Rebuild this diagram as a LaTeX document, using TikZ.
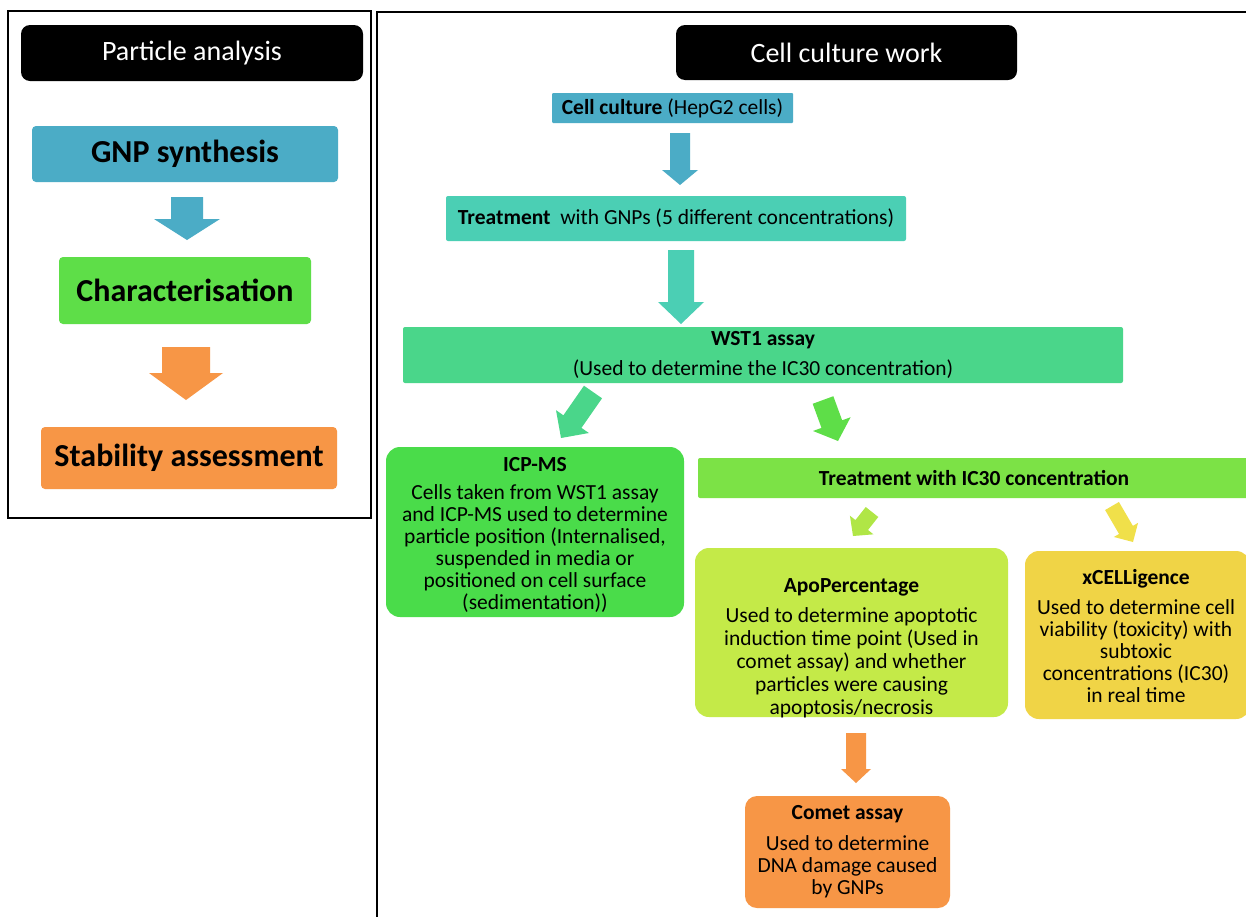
\documentclass[tikz,border=0pt]{standalone}
\usepackage{fontspec}
\setmainfont{Carlito}
\usetikzlibrary{calc}
\definecolor{cblue}{HTML}{4BACC6}
\definecolor{cgreen}{HTML}{5EDE48}
\definecolor{corange}{HTML}{F79646}
\definecolor{cteal}{HTML}{4BCFB4}
\definecolor{cwst}{HTML}{4AD68A}
\definecolor{cicp}{HTML}{4ADC4A}
\definecolor{clime}{HTML}{7CE246}
\definecolor{capo}{HTML}{C4EA48}
\definecolor{capoarr}{HTML}{B0E646}
\definecolor{cyel}{HTML}{F0D446}
\definecolor{cyarr}{HTML}{F0E04A}
\newcommand\fatarrow[6]{%
  \coordinate (fah) at ($(#2)!#5!(#1)$);
  \fill[#6] ($(#1)!#3!90:(#2)$) -- ($(fah)!#3!90:(#2)$) -- ($(fah)!#4!90:(#2)$) -- (#2)
    -- ($(fah)!#4!-90:(#2)$) -- ($(fah)!#3!-90:(#2)$) -- ($(#1)!#3!-90:(#2)$) -- cycle;}
\tikzset{
  box/.style={rectangle, rounded corners=4pt, inner sep=0pt, align=center, text=black},
  rbox/.style={rectangle, rounded corners=14pt, inner sep=0pt},
  hdr/.style={rectangle, fill=black, rounded corners=9pt, text=white, inner sep=0pt,
    font=\fontsize{28}{32}\selectfont},
  big/.style={font=\fontsize{32}{36}\selectfont\bfseries},
  sm/.style={font=\fontsize{21.5}{22}\selectfont},
  txt/.style={inner sep=0pt, align=center, text=black},
  frame/.style={draw=black, line width=2pt}
}
\begin{document}
\begin{tikzpicture}[x=1pt,y=-1pt]
\useasboundingbox (0,0) rectangle (1246,916);
\clip (0,0) rectangle (1246,916);
\fill[white] (0,0) rectangle (1246,916);
% frames
\draw[frame] (8,11) rectangle (371,518);
\draw[frame] (377,12) rectangle (1262,932);
% left column
\node[hdr, minimum width=342pt, minimum height=56pt] (hdrL) at (192,53) {Particle analysis};
\node[box, big, fill=cblue, minimum width=306pt, minimum height=56pt] (gnp) at (185,154) {GNP synthesis};
\node[box, big, fill=cgreen, minimum width=252pt, minimum height=67pt] (char) at (185,290.5) {Characterisation};
\node[box, big, fill=corange, minimum width=296pt, minimum height=62pt] (stab) at (189,458) {Stability assessment};
\coordinate (a1s) at (187,197); \coordinate (a1e) at (187,240);
\fatarrow{a1s}{a1e}{16pt}{33pt}{21pt}{cblue}
\coordinate (a2s) at (186,347); \coordinate (a2e) at (186,400);
\fatarrow{a2s}{a2e}{24pt}{37pt}{27pt}{corange}
% right column
\node[hdr, minimum width=341pt, minimum height=55pt] (hdrR) at (846.5,52.5) {Cell culture work};
\node[box, sm, rounded corners=1pt, fill=cblue, minimum width=241pt, minimum height=30pt] (cc) at (672.5,108) {\textbf{Cell culture} (HepG2 cells)};
\node[box, sm, rounded corners=2pt, fill=cteal, minimum width=460pt, minimum height=45pt] (treat) at (676,218.5) {\textbf{Treatment}\ \ with GNPs (5 different concentrations)};
\node[box, sm, rounded corners=2pt, fill=cwst, minimum width=720pt, minimum height=56pt] (wst) at (763,355) {\textbf{WST1 assay}\\[8pt](Used to determine the IC30 concentration)};
\node[box, sm, rounded corners=2pt, fill=clime, minimum width=552pt, minimum height=40pt] (ic30) at (974,478) {\textbf{Treatment with IC30 concentration}};
\coordinate (a3s) at (680,133); \coordinate (a3e) at (680,185);
\fatarrow{a3s}{a3e}{10pt}{18pt}{15pt}{cblue}
\coordinate (a4s) at (681,250); \coordinate (a4e) at (681,324);
\fatarrow{a4s}{a4e}{13pt}{23pt}{22pt}{cteal}
% ICP-MS
\node[rbox, fill=cicp, minimum width=298pt, minimum height=170pt] (icp) at (535,532) {};
\node[txt, sm] (icpt) at (535,535) {\textbf{ICP-MS}\\[6pt]Cells taken from WST1 assay\\and ICP-MS used to determine\\particle position (Internalised,\\suspended in media or\\positioned on cell surface\\(sedimentation))};
\coordinate (a5s) at (593,392); \coordinate (a5e) at (561,438);
\fatarrow{a5s}{a5e}{11pt}{20pt}{20pt}{cwst}
\coordinate (a6s) at (823,400); \coordinate (a6e) at (838,441);
\fatarrow{a6s}{a6e}{11pt}{20pt}{18pt}{cgreen}
% ApoPercentage
\node[rbox, fill=capo, minimum width=313pt, minimum height=169pt] (apo) at (851.5,632.5) {};
\node[txt, font=\fontsize{21.5}{23}\selectfont] (apot) at (851.5,648.5) {\textbf{ApoPercentage}\\[7pt]Used to determine apoptotic\\induction time point (Used in\\comet assay) and whether\\particles were causing\\apoptosis/necrosis};
\coordinate (a7s) at (872,512); \coordinate (a7e) at (853,536);
\fatarrow{a7s}{a7e}{8pt}{15pt}{14pt}{capoarr}
% xCELLigence
\node[rbox, fill=cyel, minimum width=225pt, minimum height=168pt] (xcel) at (1137.5,635) {};
\node[txt, sm] (xcelt) at (1136,636) {\textbf{xCELLigence}\\[8pt]Used to determine cell\\viability (toxicity) with\\subtoxic\\concentrations (IC30)\\in real time};
\coordinate (a8s) at (1112,506); \coordinate (a8e) at (1133,542);
\fatarrow{a8s}{a8e}{8pt}{14pt}{14pt}{cyarr}
% Comet
\node[rbox, rounded corners=12pt, fill=corange, minimum width=205pt, minimum height=112pt] (comet) at (847.5,852) {};
\node[txt, sm] (comett) at (847.5,852) {\textbf{Comet assay}\\[9pt]Used to determine\\DNA damage caused\\by GNPs};
\coordinate (a9s) at (856,733); \coordinate (a9e) at (856,783);
\fatarrow{a9s}{a9e}{10pt}{15pt}{14pt}{corange}
\end{tikzpicture}
\end{document}
